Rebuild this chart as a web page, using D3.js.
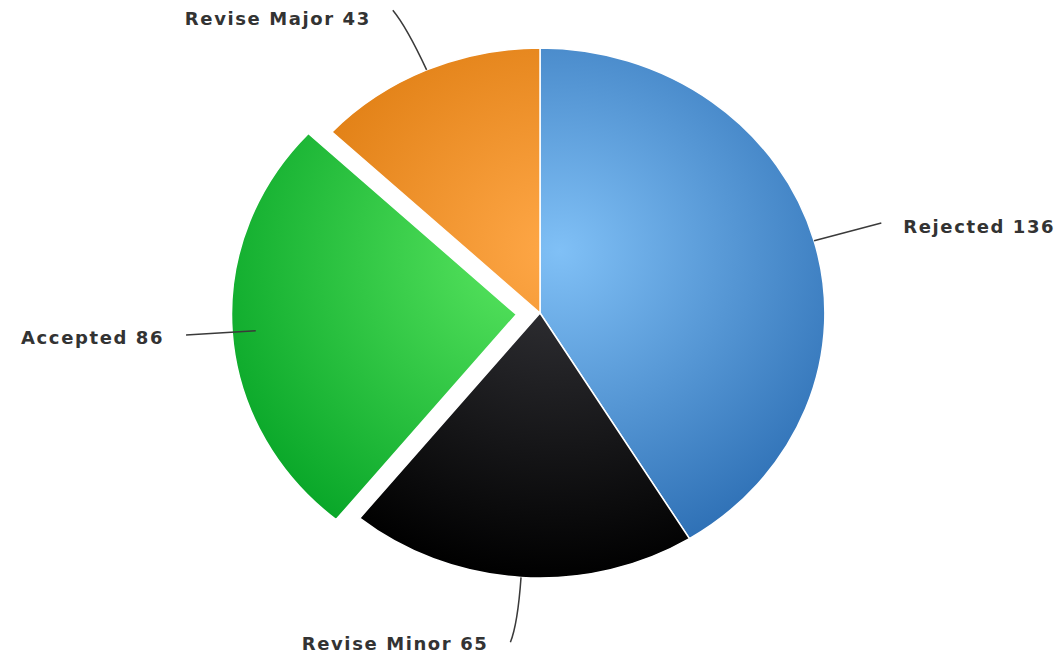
<!DOCTYPE html>
<html>
<head>
<meta charset="utf-8">
<script src="https://cdn.jsdelivr.net/npm/d3@7"></script>
<style>
  html, body { margin: 0; padding: 0; background: #fff; }
  .lbl { font-family: "DejaVu Sans", sans-serif; font-weight: bold; font-size: 18px; letter-spacing: 1.6px; fill: #333; }
</style>
</head>
<body>
<div id="chart"></div>
<script>
// data
var categories = ['Rejected', 'Revise Minor', 'Accepted', 'Revise Major'];
var values = [136, 65, 86, 43];
var exploded = ['Accepted'];

// gradient colours per slice (light centre -> dark rim)
var lightColors = ['#80c0f6', '#36363b', '#5ce862', '#ffa848'];
var darkColors = ['#2a6cb2', '#000000', '#08a628', '#d87406'];

var width = 1059, height = 656;
var cx = 540, cy = 313, radius = 265, sx = 1.075;
var explode = 22;

var svg = d3.select('#chart').append('svg')
  .attr('width', width)
  .attr('height', height);

var defs = svg.append('defs');
categories.forEach(function (c, i) {
  var gr = defs.append('radialGradient')
    .attr('id', 'grad' + i)
    .attr('gradientUnits', 'userSpaceOnUse')
    .attr('cx', 18).attr('cy', -62)
    .attr('fx', 18).attr('fy', -62)
    .attr('r', 330);
  gr.append('stop').attr('offset', '0%').attr('stop-color', lightColors[i]);
  gr.append('stop').attr('offset', '100%').attr('stop-color', darkColors[i]);
});

var pie = d3.pie().sort(null).value(function (d, i) { return values[i]; });
var arcs = pie(categories);

var arc = d3.arc().innerRadius(0).outerRadius(radius);

var pieG = svg.append('g')
  .attr('transform', 'translate(' + cx + ',' + cy + ') scale(' + sx + ',1)');

pieG.selectAll('path')
  .data(arcs)
  .join('path')
  .attr('d', arc)
  .attr('transform', function (d) {
    if (exploded.indexOf(d.data) < 0) return null;
    var a = (d.startAngle + d.endAngle) / 2;
    return 'translate(' + (Math.sin(a) * explode) + ',' + (-Math.cos(a) * explode) + ')';
  })
  .attr('fill', function (d, i) { return 'url(#grad' + i + ')'; })
  .attr('stroke', '#fff')
  .attr('stroke-width', 1.5)
  .attr('vector-effect', 'non-scaling-stroke');

// labels + leader lines (drawn unscaled)
var labelG = svg.append('g').attr('transform', 'translate(' + cx + ',' + cy + ')');

function pt(a, r) { return [Math.sin(a) * r * sx, -Math.cos(a) * r]; }

arcs.forEach(function (d, i) {
  var a = (d.startAngle + d.endAngle) / 2;
  var side = Math.sin(a) >= 0 ? 1 : -1;
  var c = Math.cos(a);
  var p0 = pt(a, radius);
  var p1 = pt(a, 312);
  var p2 = pt(a, 330);
  // small hook toward the label side for the near-vertical leaders
  var hook = Math.abs(c) > 0.7 ? side * 6 : 0;
  p2 = [p2[0] + hook, p2[1]];
  var path = d3.path();
  path.moveTo(p0[0], p0[1]);
  path.quadraticCurveTo(p1[0], p1[1], p2[0], p2[1]);
  labelG.append('path')
    .attr('d', path.toString())
    .attr('fill', 'none')
    .attr('stroke', '#3a3a3a')
    .attr('stroke-width', 1.5);
  var dy = c > 0.7 ? 8 : c < -0.7 ? 1 : 3;
  labelG.append('text')
    .attr('class', 'lbl')
    .attr('x', p2[0] + side * 22)
    .attr('y', p2[1] + dy)
    .attr('dominant-baseline', 'central')
    .attr('text-anchor', side > 0 ? 'start' : 'end')
    .text(categories[i] + ' ' + values[i]);
});
</script>
</body>
</html>
